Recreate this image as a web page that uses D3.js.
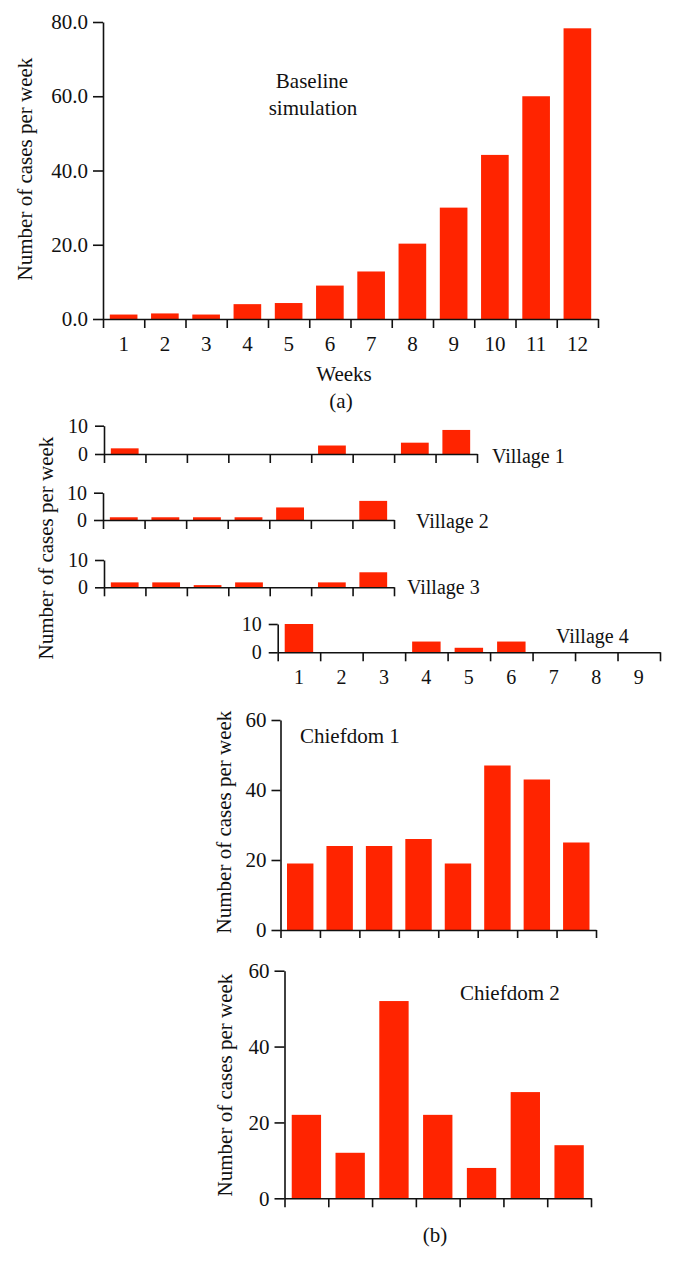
<!DOCTYPE html>
<html>
<head>
<meta charset="utf-8">
<script src="https://cdn.jsdelivr.net/npm/d3@7"></script>
<style>
  html, body { margin: 0; padding: 0; background: #fff; }
  svg { display: block; }
  text { font-family: "Liberation Serif", "DejaVu Serif", serif; fill: #111; }
</style>
</head>
<body>
<svg id="chart" width="674" height="1264"></svg>
<script>
// ---- Data ----
const baselineWeeks = ["1","2","3","4","5","6","7","8","9","10","11","12"];
const baselineCases = [1.2, 1.5, 1.2, 4.0, 4.3, 9.0, 12.8, 20.3, 30.0, 44.2, 60.0, 78.3];
const baselineYTicks = [0, 20, 40, 60, 80];

const village1Cases = [2, 0, 0, 0, 0, 3, 0, 4, 8.5];
const village2Cases = [1, 1, 1, 1, 4.6, 0, 7];
const village3Cases = [1.8, 1.8, 0.8, 1.8, 0, 1.8, 5.5];
const village4Cases = [10, 0, 0, 3.8, 1.6, 3.8, 0, 0, 0];
const village4Weeks = ["1","2","3","4","5","6","7","8","9"];
const villageYTicks = [0, 10];
const villageNames = ["Village 1", "Village 2", "Village 3", "Village 4"];

const chiefdom1Cases = [19, 24, 24, 26, 19, 47, 43, 25];
const chiefdom2Cases = [22, 12, 52, 22, 8, 28, 14];
const chiefdomYTicks = [0, 20, 40, 60];
const chiefdomNames = ["Chiefdom 1", "Chiefdom 2"];

const yTitle = "Number of cases per week";
const BAR = "#ff2400";
const FS = 21;

const svg = d3.select("#chart");

function panel(o) {
  const g = svg.append("g");
  const n = o.data.length;
  const xb = d3.scaleBand().domain(d3.range(n)).range([o.x0, o.x1])
    .paddingInner(0.33).paddingOuter(0.165);
  const xl = d3.scaleLinear().domain([0, n]).range([o.x0, o.x1]);
  const y = d3.scaleLinear().domain([0, o.yMax]).range([o.yBase, o.yTop]);

  g.selectAll("rect").data(o.data.map((v, i) => ({v, i})).filter(d => d.v > 0))
    .enter().append("rect")
    .attr("x", d => xb(d.i))
    .attr("width", xb.bandwidth())
    .attr("y", d => y(d.v))
    .attr("height", d => y(0) - y(d.v))
    .attr("fill", BAR);

  const xa = g.append("g").attr("transform", `translate(0,${o.yBase})`)
    .call(d3.axisBottom(xl).tickValues(d3.range(n + 1)).tickFormat("")
      .tickSize(o.xTick).tickSizeOuter(0));
  const ya = g.append("g").attr("transform", `translate(${o.x0},0)`)
    .call(d3.axisLeft(y).tickValues(o.yTicks).tickFormat(o.fmt || d3.format("d"))
      .tickSize(o.yTick).tickSizeOuter(0).tickPadding(o.pad || 5));
  [xa, ya].forEach(a => {
    a.selectAll("path, line").attr("stroke", "#111").attr("stroke-width", 1.6);
    a.selectAll("text").attr("font-size", o.fs || FS)
      .attr("font-family", "Liberation Serif, serif").attr("fill", "#111");
  });

  if (o.xLabels) {
    g.selectAll("text.xl").data(o.xLabels).enter().append("text")
      .attr("class", "xl")
      .attr("x", (d, i) => xb(i) + xb.bandwidth() / 2)
      .attr("y", o.xLabelY)
      .attr("text-anchor", "middle")
      .attr("font-size", o.fs || FS)
      .text(d => d);
  }
  return {xb, y};
}

function yTitleAt(x, cy) {
  svg.append("text")
    .attr("transform", `translate(${x},${cy}) rotate(-90)`)
    .attr("text-anchor", "middle")
    .attr("font-size", FS)
    .text(yTitle);
}
function label(t, x, y, anchor, fs) {
  svg.append("text").attr("x", x).attr("y", y)
    .attr("text-anchor", anchor || "start")
    .attr("font-size", fs || FS).text(t);
}

// ---- (a) Baseline ----
panel({data: baselineCases, x0: 103, x1: 598, yBase: 319, yTop: 22, yMax: 80,
  yTicks: baselineYTicks, fmt: d3.format(".1f"), yTick: 10, xTick: 9,
  xLabels: baselineWeeks, xLabelY: 351});
yTitleAt(32, 169);
label("Baseline", 312, 88, "middle");
label("simulation", 313, 115, "middle");
label("Weeks", 344, 381, "middle");
label("(a)", 341, 408, "middle");

// ---- Villages ----
panel({data: village1Cases, x0: 104, x1: 477, yBase: 454, yTop: 425.7, yMax: 10,
  yTicks: villageYTicks, yTick: 9, xTick: 9, pad: 7, fs: 20});
panel({data: village2Cases, x0: 103, x1: 394, yBase: 520, yTop: 492.7, yMax: 10,
  yTicks: villageYTicks, yTick: 9, xTick: 9, pad: 7, fs: 20});
panel({data: village3Cases, x0: 104, x1: 394, yBase: 587.3, yTop: 560, yMax: 10,
  yTicks: villageYTicks, yTick: 9, xTick: 9, pad: 7, fs: 20});
panel({data: village4Cases, x0: 277.7, x1: 660, yBase: 652.3, yTop: 624, yMax: 10,
  yTicks: villageYTicks, yTick: 9, xTick: 9, pad: 7, fs: 20,
  xLabels: village4Weeks, xLabelY: 684});
yTitleAt(53, 548);
label(villageNames[0], 492, 463, "start", 20);
label(villageNames[1], 416, 528, "start", 20);
label(villageNames[2], 407, 594, "start", 20);
label(villageNames[3], 556, 643, "start", 20);

// ---- Chiefdoms ----
panel({data: chiefdom1Cases, x0: 280.5, x1: 596, yBase: 930, yTop: 720, yMax: 60,
  yTicks: chiefdomYTicks, yTick: 9, xTick: 8});
yTitleAt(231, 822);
label(chiefdomNames[0], 300, 743);

panel({data: chiefdom2Cases, x0: 284.5, x1: 591, yBase: 1198.3, yTop: 970.7, yMax: 60,
  yTicks: chiefdomYTicks, yTick: 10, xTick: 9});
yTitleAt(232, 1085);
label(chiefdomNames[1], 460, 1000);
label("(b)", 435, 1242, "middle");
</script>
</body>
</html>
